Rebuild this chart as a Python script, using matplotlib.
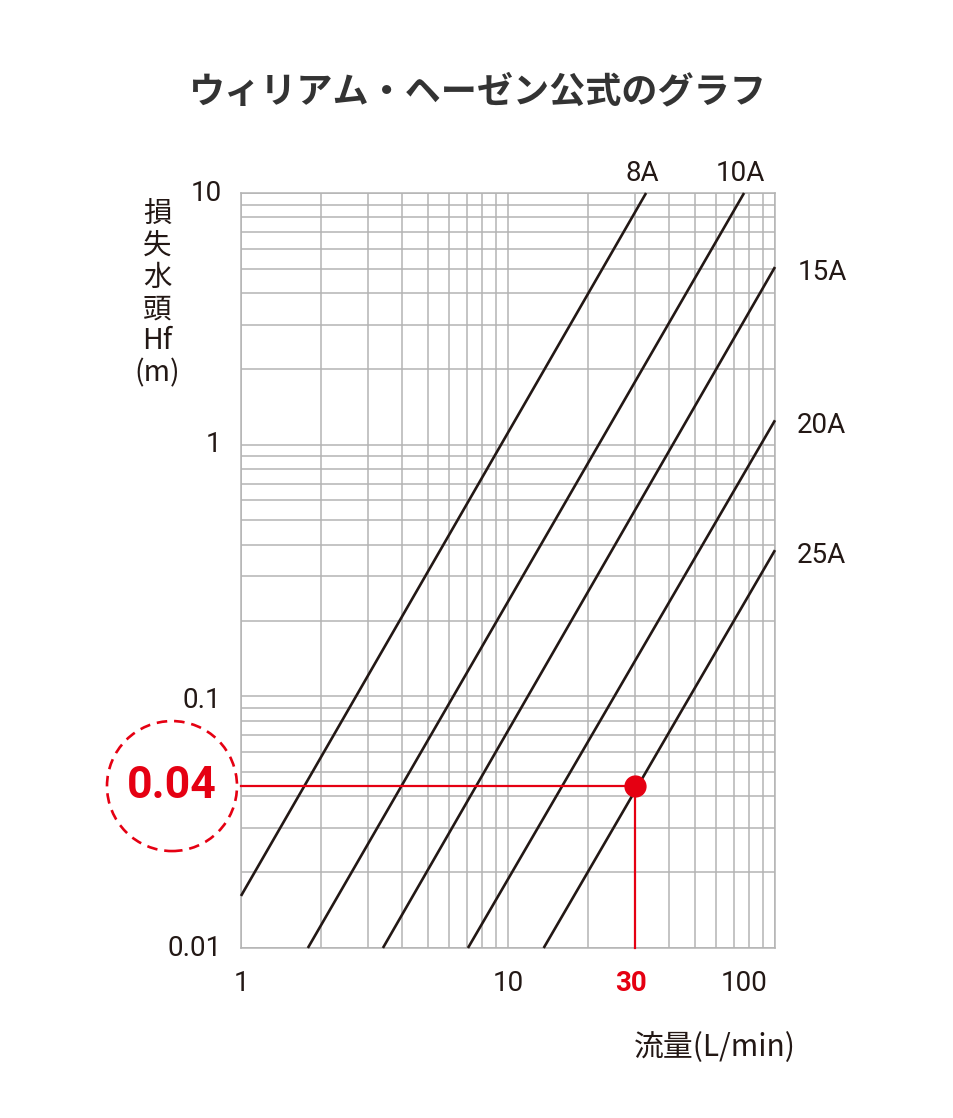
import matplotlib
matplotlib.use("Agg")
import matplotlib.pyplot as plt
from matplotlib.patches import Circle

# ---- data ----
pipe_sizes = ["8A", "10A", "15A", "20A", "25A"]
flow_start = [1.0, 1.78, 3.40, 7.08, 13.6]      # L/min
head_start = [0.0161, 0.01, 0.01, 0.01, 0.01]   # m
flow_end = [32.9, 76.6, 100.0, 100.0, 100.0]
head_end = [10.0, 10.0, 5.08, 1.25, 0.381]

x_ticks = [1, 10, 100]
x_tick_labels = ["1", "10", "100"]
y_ticks = [0.01, 0.1, 1, 10]
y_tick_labels = ["0.01", "0.1", "1", "10"]

example_flow = 30
example_head = 0.044
example_flow_label = "30"
example_head_label = "0.04"

title = "ウィリアム・ヘーゼン公式のグラフ"
xlabel = "流量(L/min)"
ylabel_lines = ["損", "失", "水", "頭", "Hf", "(m)"]

# ---- style ----
INK = "#231815"
GRID = "#b4b4b4"
RED = "#e50012"
NUM_FONT = ["Roboto", "DejaVu Sans"]
JP_FONT = ["Noto Sans CJK JP", "DejaVu Sans"]

W, H = 954, 1118
fig = plt.figure(figsize=(W / 100, H / 100), dpi=100)
fig.patch.set_facecolor("white")
L, R, T, B = 241, 775, 193, 948
ax = fig.add_axes([L / W, 1 - B / H, (R - L) / W, (B - T) / H])
ax.set_xscale("log")
ax.set_yscale("log")
ax.set_xlim(1, 100)
ax.set_ylim(0.01, 10)

ax.grid(which="both", color=GRID, lw=1.1, zorder=0)
for s in ax.spines.values():
    s.set_color(GRID)
    s.set_linewidth(1.1)
ax.tick_params(which="both", length=0, labelbottom=False, labelleft=False)

# pipe lines
for i, name in enumerate(pipe_sizes):
    ax.plot([flow_start[i], flow_end[i]], [head_start[i], head_end[i]],
            color=INK, lw=1.9, solid_capstyle="butt", zorder=3, clip_on=False)
    if head_end[i] >= 10:
        ax.annotate(name, xy=(flow_end[i], head_end[i]), xytext=(-3, 4),
                    textcoords="offset points", ha="center", va="bottom",
                    fontsize=20, family=NUM_FONT, color=INK)
    else:
        ax.annotate(name, xy=(flow_end[i], head_end[i]), xytext=(16, -4),
                    textcoords="offset points", ha="left", va="center",
                    fontsize=20, family=NUM_FONT, color=INK)

# tick labels
for v, lab in zip(x_ticks, x_tick_labels):
    dx = -22 if v == 100 else 0
    ax.annotate(lab, xy=(v, 0.01), xytext=(dx, -16), textcoords="offset points",
                ha="center", va="top", fontsize=20, family=NUM_FONT, color=INK)
ax.annotate(example_flow_label, xy=(example_flow, 0.01), xytext=(-3, -16),
            textcoords="offset points", ha="center", va="top", fontsize=20,
            family=NUM_FONT, color=RED, fontweight="bold")
for v, lab in zip(y_ticks, y_tick_labels):
    dy = -3 if v == 0.1 else 0
    ax.annotate(lab, xy=(1, v), xytext=(-14, dy), textcoords="offset points",
                ha="right", va="center", fontsize=20, family=NUM_FONT, color=INK)

# example reading
ax.plot([1, example_flow], [example_head, example_head], color=RED, lw=1.6,
        zorder=4, clip_on=False)
ax.plot([example_flow, example_flow], [0.01, example_head], color=RED, lw=1.6,
        zorder=4, clip_on=False)
ax.plot([example_flow], [example_head], "o", color=RED, ms=15, zorder=5)

cx_disp, cy_disp = ax.transData.transform((1, example_head))
cx_disp -= 69
circ = Circle((cx_disp, cy_disp), 65, transform=None, fill=False, ec=RED,
              lw=1.9, ls=(0, (4, 2.6)), clip_on=False)
fig.add_artist(circ)
fig.text(cx_disp / W, cy_disp / H, example_head_label, ha="center", va="center",
         fontsize=32, family=NUM_FONT, fontweight="bold", color=RED)

# axis labels
fig.text(715 / W, 1 - 1048 / H, xlabel, ha="center", va="center",
         fontsize=21.5, family=JP_FONT, color=INK)
fig.text(157 / W, 1 - 294 / H, "\n".join(ylabel_lines), ha="center", va="center",
         fontsize=20.5, family=JP_FONT, color=INK, linespacing=1.07)

# title
fig.text(0.5, 1 - 92 / H, title, ha="center", va="center", fontsize=26,
         family=JP_FONT, fontweight="bold", color="#333333")

fig.savefig("out.png", dpi=100, facecolor="white")
